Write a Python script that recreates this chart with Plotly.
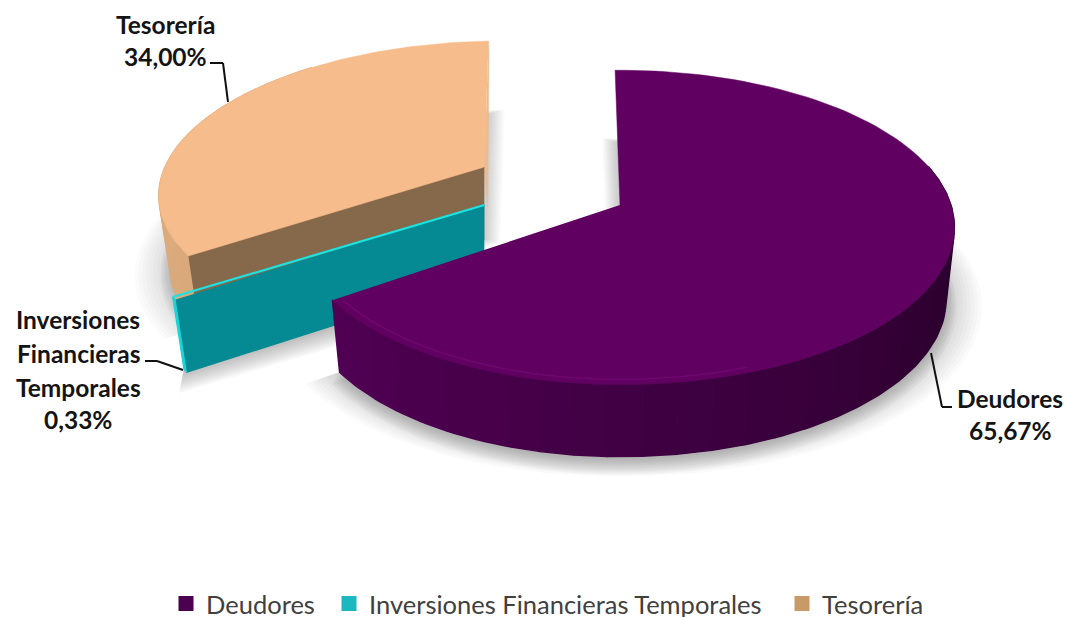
import numpy as np
import plotly.graph_objects as go

# --- data ---
categories = ["Deudores", "Inversiones Financieras Temporales", "Tesorería"]
shares = [65.67, 0.33, 34.00]
value_labels = ["65,67%", "0,33%", "34,00%"]

# --- style ---
TOP = ["#600060", "#19E3E3", "#F6BC8C"]
RIM_A = ["#500053", "#19D5D8", "#D9A97B"]
RIM_B = ["#230025", "#19D5D8", "#E2B083"]
SWATCH = ["#4B0050", "#1CB8C0", "#C79A68"]
PULL = [(0.0, 0.0), (-0.41, 0.0), (-0.425, 0.256)]
LEFT_SCALE = [0.97, 1.0, 1.0]
TURN = [0.0, 0.0, -1.5]   # the exploded back slice sits slightly turned
SHADE = ["rgba(100,100,100,0.032)", "rgba(100,100,100,0.05)", "rgba(100,100,100,0.024)"]
ROT = -1.0

# projection of the tilted disc to the canvas
CX, CY, A, B, K, DROP, SHRINK = 620.0, 205.0, 331.0, 154.0, 1 / 7, 72.0, 0.975
CANVAS_H = 640  # the lower part falls outside the window; it leaves room for the legend box


def project(u, v, down=False, slice_i=1):
    u, v = np.asarray(u, float), np.asarray(v, float)
    d = 1 + K * v
    a = np.where(u < 0, A * LEFT_SCALE[slice_i], A)
    x = CX + a * u / d
    y = CY - B * v / d
    if down:
        x = CX + (x - CX) * SHRINK
        y = y + DROP
    return x, y


def arc(a0, a1, off, r=1.0, n=120):
    t = np.radians(np.linspace(a0, a1, n))
    return r * np.sin(t) + off[0], r * np.cos(t) + off[1]


def hexmix(c1, c2, f):
    a = [int(c1[i:i + 2], 16) for i in (1, 3, 5)]
    b = [int(c2[i:i + 2], 16) for i in (1, 3, 5)]
    return "rgb(%d,%d,%d)" % tuple(round(p + (q - p) * f) for p, q in zip(a, b))


fig = go.Figure()


def poly(x, y, color, lw=1.4):
    fig.add_trace(go.Scatter(x=list(x), y=list(y), mode="lines", fill="toself", fillcolor=color,
                             line=dict(color=color, width=lw), hoverinfo="skip", showlegend=False))


# slice angle ranges, clockwise from the top of the disc
edges = ROT + np.concatenate([[0], np.cumsum(shares)]) * 3.6
spans = [(edges[i] + TURN[i], edges[i + 1] + TURN[i]) for i in range(3)]

# soft ground shadow: stacked faint copies that spread outwards
for i in (0, 2):
    a0, a1 = spans[i]
    for e in np.linspace(0.07, 0.004, 10):
        au, av = arc(a0, a1, PULL[i], 1 + e)
        xs, ys = project(np.r_[PULL[i][0], au], np.r_[PULL[i][1], av], down=True, slice_i=i)
        for sx in (-1, 1):
            poly(xs + sx * e * 180, ys + e * 60, SHADE[i], lw=0)
# the thin slice only throws a band below its lower edge
au, av = arc(*spans[1], PULL[1], n=2)
ex, ey = project(au[-1], av[-1], down=True)
px, py = project(PULL[1][0], PULL[1][1], down=True)
for d in np.linspace(3, 24, 10):
    poly([px, ex, ex - d * 0.2, px], [py, ey, ey + d, py + d], SHADE[1], lw=0)

for i in (2, 1, 0):
    a0, a1 = spans[i]
    off = PULL[i]
    au, av = arc(a0, a1, off)
    ox, oy = project(au, av, slice_i=i)
    dx, dy = project(au, av, down=True, slice_i=i)
    ax, ay = project(off[0], off[1], slice_i=i)
    adx, ady = project(off[0], off[1], down=True, slice_i=i)

    if i == 2:  # cut faces of the back slice
        poly([ox[-1], ox[-1] + 0.5, ax + 3.5, ax], [oy[-1], oy[-1] + 8, ay + 40, ay], "#EDBB8E", lw=0.5)
        poly([ax, ox[0], dx[0], ax], [ay, oy[0], dy[0], ady], "#86684B")
    if i == 1:  # the thin slice shows its cut face
        poly([ax, ox[0], dx[0], ax], [ay, oy[0], dy[0], ady], "#058A93")

    # outer wall, shaded in steps
    start, stop = a0, a1
    if i == 0:
        start = max(a0, 75.0)
    if i == 2:
        stop = 320.0
    steps = 30 if i != 1 else 1
    grid = np.linspace(start, stop, steps + 1)
    for j in range(steps):
        su, sv = arc(grid[j], grid[j + 1], off, n=6)
        tx, ty = project(su, sv, slice_i=i)
        bx, by = project(su, sv, down=True, slice_i=i)
        f = 1 - j / max(steps - 1, 1) if i == 0 else j / max(steps - 1, 1)
        poly(np.r_[tx, bx[::-1]], np.r_[ty, by[::-1]], hexmix(RIM_A[i], RIM_B[i], f))

    # top face
    if i == 1:
        fig.add_trace(go.Scatter(x=[ax, ox[-1]], y=[ay, oy[-1]], mode="lines",
                                 line=dict(color=TOP[1], width=2.2),
                                 hoverinfo="skip", showlegend=False))
    else:
        poly(np.r_[ax, ox], np.r_[ay, oy], TOP[i], lw=0.5)

    # soft bevel along the visible rim of the large slice
    if i == 0:
        su, sv = arc(160, a1 - 1, off, 0.975)
        bx, by = project(su, sv, slice_i=i)
        fig.add_trace(go.Scatter(x=bx, y=by, mode="lines", line=dict(color="#700670", width=1.5),
                                 hoverinfo="skip", showlegend=False))

# one legend per entry, so each sits where the reference puts it
legend_x = [166, 329, 782]
names = ["legend", "legend2", "legend3"]
for i, cat in enumerate(categories):
    fig.add_trace(go.Scatter(x=[None], y=[None], mode="markers", name=cat, legend=names[i],
                             marker=dict(symbol="square", size=15, color=SWATCH[i]),
                             hoverinfo="skip"))

label_font = dict(family="Lato", size=24.5, color="#141414")


def label(cx, cy, text):
    fig.add_annotation(x=cx, y=cy, text=f"<b>{text}</b>", showarrow=False, xref="x", yref="y",
                       font=label_font, xanchor="center", yanchor="middle")


for cx, cy, t in [(165, 24, "Tesorería"), (165, 56, value_labels[2]),
                  (1010, 398, "Deudores"), (1010, 430, value_labels[0]),
                  (78, 319, "Inversiones"), (78, 353, "Financieras"),
                  (78, 387, "Temporales"), (78, 419, value_labels[1])]:
    label(cx, cy, t)

leaders = [[(210, 63), (223, 63), (228, 102)],
           [(145, 361), (157, 361), (183, 370)],
           [(931, 353), (942, 407), (952, 407)]]
shapes = []
for pts in leaders:
    for p, q in zip(pts[:-1], pts[1:]):
        shapes.append(dict(type="line", x0=p[0], y0=p[1], x1=q[0], y1=q[1], xref="x", yref="y",
                           line=dict(color="#111111", width=2)))

layout = dict(
    width=1066, height=CANVAS_H, margin=dict(l=0, r=0, t=0, b=0),
    paper_bgcolor="white", plot_bgcolor="white",
    xaxis=dict(range=[0, 1066], visible=False, fixedrange=True),
    yaxis=dict(range=[CANVAS_H, 0], visible=False, fixedrange=True),
    shapes=shapes, hovermode=False,
)
for n, lx in zip(names, legend_x):
    layout[n] = dict(x=lx / 1066, y=1 - 604 / CANVAS_H, xanchor="left", yanchor="middle",
                     font=dict(family="Lato", size=25.5, color="#404040"),
                     bgcolor="rgba(0,0,0,0)", orientation="h")
fig.update_layout(**layout)
fig.write_html("out.html", config=dict(displayModeBar=False),
               post_script="document.body.style.margin='0';document.body.style.overflow='hidden';"
                           "document.documentElement.style.overflow='hidden';")
